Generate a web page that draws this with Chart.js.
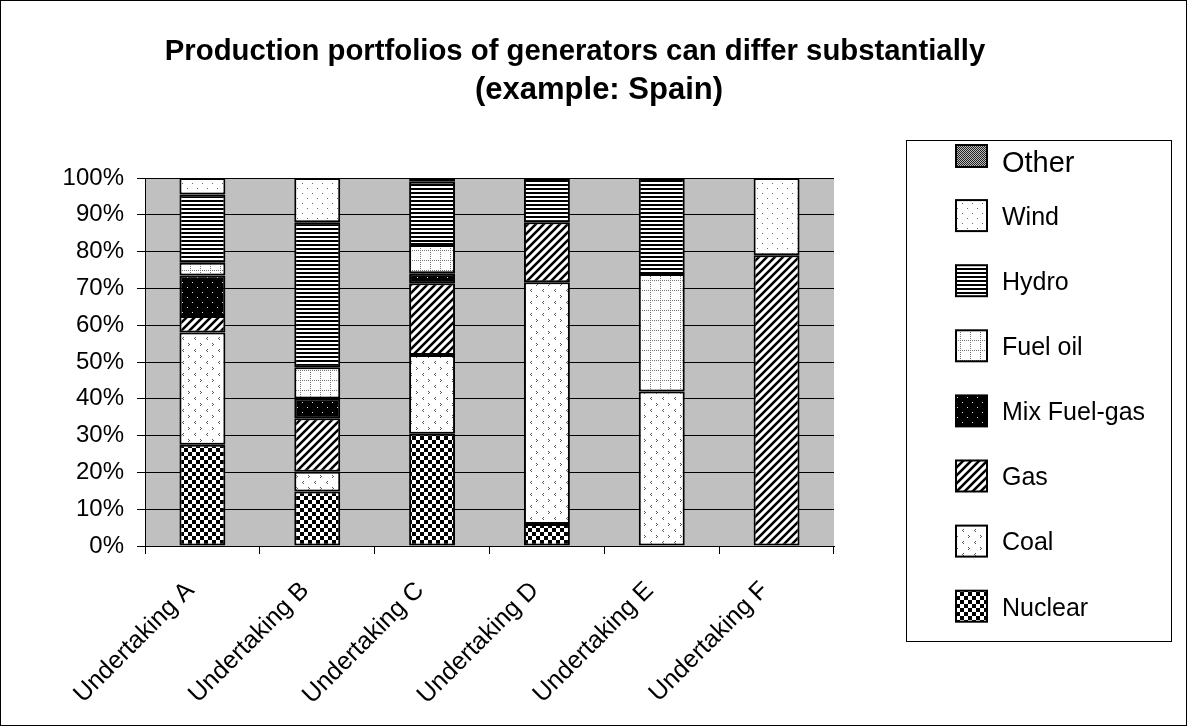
<!DOCTYPE html>
<html><head><meta charset="utf-8">
<script src="https://cdn.jsdelivr.net/npm/chart.js@4.4.0/dist/chart.umd.min.js"></script>
<style>html,body{margin:0;padding:0;background:#fff;overflow:hidden}canvas{display:block}</style>
</head><body>
<canvas id="c" width="1187" height="726"></canvas>
<script>
// ---- data (percent of production) ----
const categories = ['Undertaking A','Undertaking B','Undertaking C','Undertaking D','Undertaking E','Undertaking F'];
const nuclear   = [27.5, 14.8, 30.5, 6.0, null, null];
const coal      = [30.5,  5.4, 21.4, 65.7, 42.0, null];
const gas       = [ 4.5, 14.5, 19.5, 16.3, null, 79.0];
const mixFuelGas= [11.0,  5.4,  2.7, null, null, null];
const fuelOil   = [ 3.5,  8.5,  7.7, null, 31.9, null];
const hydro     = [18.5, 39.4, 17.2, 12.0, 26.1, null];
const wind      = [ 4.5, 12.0, null, null, null, 21.0];
const other     = [null, null,  1.0, null, null, null];
const seriesNames = ['Nuclear','Coal','Gas','Mix Fuel-gas','Fuel oil','Hydro','Wind','Other'];
const yTicks = [0,10,20,30,40,50,60,70,80,90,100];
const titleLines = ['Production portfolios of generators can differ substantially','(example: Spain)'];

const FONT = "'Liberation Sans', Arial, sans-serif";
const canvas = document.getElementById('c');
const ctx = canvas.getContext('2d');

function pat(w, h, draw){
  const c = document.createElement('canvas'); c.width = w; c.height = h;
  const g = c.getContext('2d'); draw(g, w, h);
  return ctx.createPattern(c, 'repeat');
}
const patterns = {
  Nuclear: pat(8,8,(g)=>{g.fillStyle='#fff';g.fillRect(0,0,8,8);g.fillStyle='#000';g.fillRect(0,0,4,4);g.fillRect(4,4,4,4);}),
  Coal: pat(12,12,(g)=>{g.fillStyle='#fff';g.fillRect(0,0,12,12);g.fillStyle='#555';
    g.fillRect(3,1,1,1);g.fillRect(2,2,1,1);g.fillRect(3,3,1,1);
    g.fillRect(8,7,1,1);g.fillRect(9,8,1,1);g.fillRect(8,9,1,1);}),
  Gas: pat(8,8,(g)=>{g.fillStyle='#fff';g.fillRect(0,0,8,8);g.strokeStyle='#000';g.lineWidth=2.6;
    g.beginPath();g.moveTo(-2,10);g.lineTo(10,-2);g.moveTo(-2,2);g.lineTo(2,-2);g.moveTo(6,10);g.lineTo(10,6);g.stroke();}),
  'Mix Fuel-gas': pat(10,10,(g)=>{g.fillStyle='#000';g.fillRect(0,0,10,10);g.fillStyle='#ddd';g.fillRect(2,2,1,1);g.fillRect(7,7,1,1);}),
  'Fuel oil': pat(10,10,(g)=>{g.fillStyle='#fff';g.fillRect(0,0,10,10);g.fillStyle='#777';
    for(let i=0;i<10;i+=2){g.fillRect(i,0,1,1);g.fillRect(0,i,1,1);}}),
  Hydro: pat(4,4,(g)=>{g.fillStyle='#fff';g.fillRect(0,0,4,4);g.fillStyle='#000';g.fillRect(0,0,4,2);}),
  Wind: pat(10,10,(g)=>{g.fillStyle='#fff';g.fillRect(0,0,10,10);g.fillStyle='#666';g.fillRect(2,3,1,1);g.fillRect(7,8,1,1);}),
  Other: pat(2,2,(g)=>{g.fillStyle='#bbb';g.fillRect(0,0,2,2);g.fillStyle='#222';g.fillRect(0,0,1,1);g.fillRect(1,1,1,1);})
};
const seriesData = [nuclear, coal, gas, mixFuelGas, fuelOil, hydro, wind, other];

const datasets = seriesNames.map((n,i)=>({
  label: n, data: seriesData[i], backgroundColor: patterns[n],
  borderColor: '#000', borderWidth: 2, borderSkipped: false,
  categoryPercentage: 1.0, barPercentage: 0.4
}));

const deco = {
  id: 'deco',
  beforeDraw(chart){
    const {ctx:c, chartArea:a} = chart;
    c.save();
    c.fillStyle = '#fff'; c.fillRect(0,0,chart.width,chart.height);
    c.fillStyle = '#c0c0c0'; c.fillRect(a.left, a.top, a.right-a.left, a.bottom-a.top);
    c.restore();
  },
  afterDraw(chart){
    const c = chart.ctx;
    c.save();
    // title
    c.fillStyle = '#000'; c.textAlign = 'center'; c.textBaseline = 'middle';
    c.font = "bold 29.3px " + FONT;
    c.fillText(titleLines[0], 575, 52);
    c.font = "bold 31px " + FONT;
    c.fillText(titleLines[1], 599, 90);
    // legend box
    c.strokeStyle = '#000'; c.lineWidth = 1;
    c.strokeRect(906.5, 140.5, 265, 501);
    const ds = chart.data.datasets.slice().reverse();
    const startY = 150, step = 65.1;
    ds.forEach((d,i)=>{
      const cy = startY + i*step;
      let top = cy - 15, h = 31;
      if (d.label === 'Other') { top = 145; h = 22; }
      c.fillStyle = d.backgroundColor;
      c.fillRect(956, top, 31, h);
      c.lineWidth = 2; c.strokeStyle = '#000';
      c.strokeRect(956, top, 31, h);
      c.fillStyle = '#000'; c.textAlign = 'left'; c.textBaseline = 'middle';
      if (d.label === 'Other') { c.font = "29px " + FONT; c.fillText(d.label, 1002, cy+14); }
      else { c.font = "25px " + FONT; c.fillText(d.label, 1002, cy+3); }
    });
    // outer border
    c.lineWidth = 1; c.strokeStyle = '#000';
    c.strokeRect(0.5, 0.5, chart.width-1, chart.height-1);
    c.restore();
  }
};

new Chart(canvas, {
  type: 'bar',
  data: { labels: categories, datasets },
  options: {
    responsive: false, animation: false, devicePixelRatio: 1,
    layout: { padding: { top: 178, right: 353, bottom: 0, left: 0 } },
    plugins: { legend: { display: false }, title: { display: false }, tooltip: { enabled: false } },
    scales: {
      x: {
        stacked: true, offset: true,
        grid: { display: true, drawOnChartArea: false, offset: true, color: '#000', tickLength: 8, lineWidth: 1 },
        border: { display: true, color: '#000', width: 1 },
        ticks: { color: '#000', font: { family: FONT, size: 25 }, minRotation: 45, maxRotation: 45, padding: 22, labelOffset: -12, autoSkip: false },
        afterFit: (s) => { s.height = 180; }
      },
      y: {
        stacked: true, min: 0, max: 100,
        afterBuildTicks: (s) => { s.ticks = yTicks.map(v => ({ value: v })); },
        grid: { color: '#000', tickLength: 8, lineWidth: 1 },
        border: { display: true, color: '#000', width: 1 },
        ticks: { color: '#000', font: { family: FONT, size: 24 }, padding: 13, callback: (v) => v + '%' },
        afterFit: (s) => { s.width = 145; }
      }
    }
  },
  plugins: [deco]
});
</script>
</body></html>
